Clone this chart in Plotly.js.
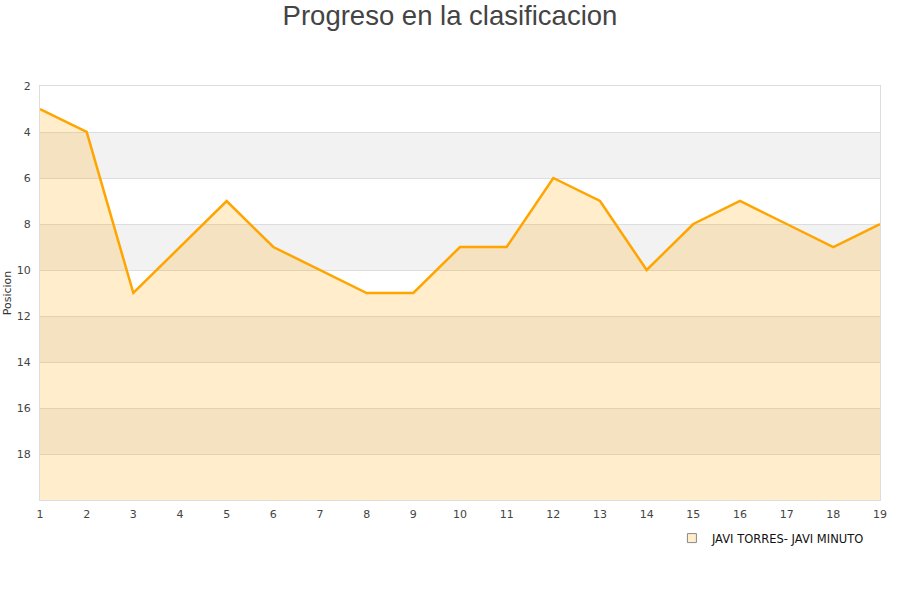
<!DOCTYPE html>
<html>
<head>
<meta charset="utf-8">
<script src="https://cdn.plot.ly/plotly-3.0.1.min.js"></script>
<style>html,body{margin:0;padding:0;background:#fff;}#chart{width:900px;height:600px;}</style>
</head>
<body>
<div id="chart"></div>
<script>
var jornadas = [1,2,3,4,5,6,7,8,9,10,11,12,13,14,15,16,17,18,19];
var posiciones = [3,4,11,9,7,9,10,11,11,9,9,6,7,10,8,7,8,9,8];
var yTicks = [2,4,6,8,10,12,14,16,18];
var xTicks = jornadas;
var seriesName = 'JAVI TORRES- JAVI MINUTO';
var yBottom = 20;

var baseline = {
  x: jornadas, y: jornadas.map(function(){return yBottom;}),
  mode: 'lines', line: {width: 0, color: 'rgba(0,0,0,0)'},
  showlegend: false, hoverinfo: 'skip'
};
var area = {
  x: jornadas, y: posiciones, mode: 'lines',
  fill: 'tonexty', fillcolor: 'rgba(255,165,0,0.2)',
  line: {color: '#FFA500', width: 2.5},
  showlegend: false, name: seriesName
};
var legendItem = {
  x: [null], y: [null], mode: 'markers', name: seriesName,
  marker: {symbol: 'square', size: 9, color: '#FFEDCC', line: {color: '#888', width: 1}}
};

var shapes = [];
var allBands = yTicks.concat([yBottom]);
for (var i = 0; i < allBands.length - 1; i++) {
  if (i % 2 === 1) {
    shapes.push({type: 'rect', xref: 'paper', yref: 'y', x0: 0, x1: 1,
      y0: allBands[i], y1: allBands[i+1], fillcolor: '#F2F2F2', line: {width: 0}, layer: 'below'});
  }
}

var layout = {
  width: 900, height: 600,
  margin: {l: 40, r: 20, t: 86, b: 100},
  paper_bgcolor: '#fff', plot_bgcolor: '#fff',
  title: {text: 'Progreso en la clasificacion', x: 0.5, xref: 'container', xanchor: 'center', y: 0.975, yanchor: 'middle',
    font: {family: 'Liberation Sans, Arial, sans-serif', size: 27.5, color: '#444'}},
  xaxis: {range: [1, 19], tickvals: xTicks, showgrid: false, zeroline: false,
    showline: true, linecolor: '#ddd', linewidth: 1, mirror: true,
    ticks: '', ticklabelstandoff: 4,
    tickfont: {family: 'DejaVu Sans, sans-serif', size: 11, color: '#444'}},
  yaxis: {range: [yBottom, 2], tickvals: yTicks, showgrid: true, gridcolor: '#ddd', gridwidth: 1,
    zeroline: false, showline: true, linecolor: '#ddd', linewidth: 1, mirror: true,
    ticks: '', ticklabelstandoff: 6,
    title: {text: 'Posicion', standoff: 2, font: {family: 'DejaVu Sans, sans-serif', size: 11, color: '#333'}},
    tickfont: {family: 'DejaVu Sans, sans-serif', size: 11, color: '#444'}},
  shapes: shapes,
  showlegend: true,
  legend: {orientation: 'h', x: 0.988, xanchor: 'right', y: -0.092, yanchor: 'middle',
    bgcolor: 'rgba(255,255,255,0)', itemwidth: 30,
    font: {family: 'DejaVu Sans, sans-serif', size: 11.5, color: '#111'}}
};

Plotly.newPlot('chart', [baseline, area, legendItem], layout, {displayModeBar: false, staticPlot: true});
</script>
</body>
</html>
